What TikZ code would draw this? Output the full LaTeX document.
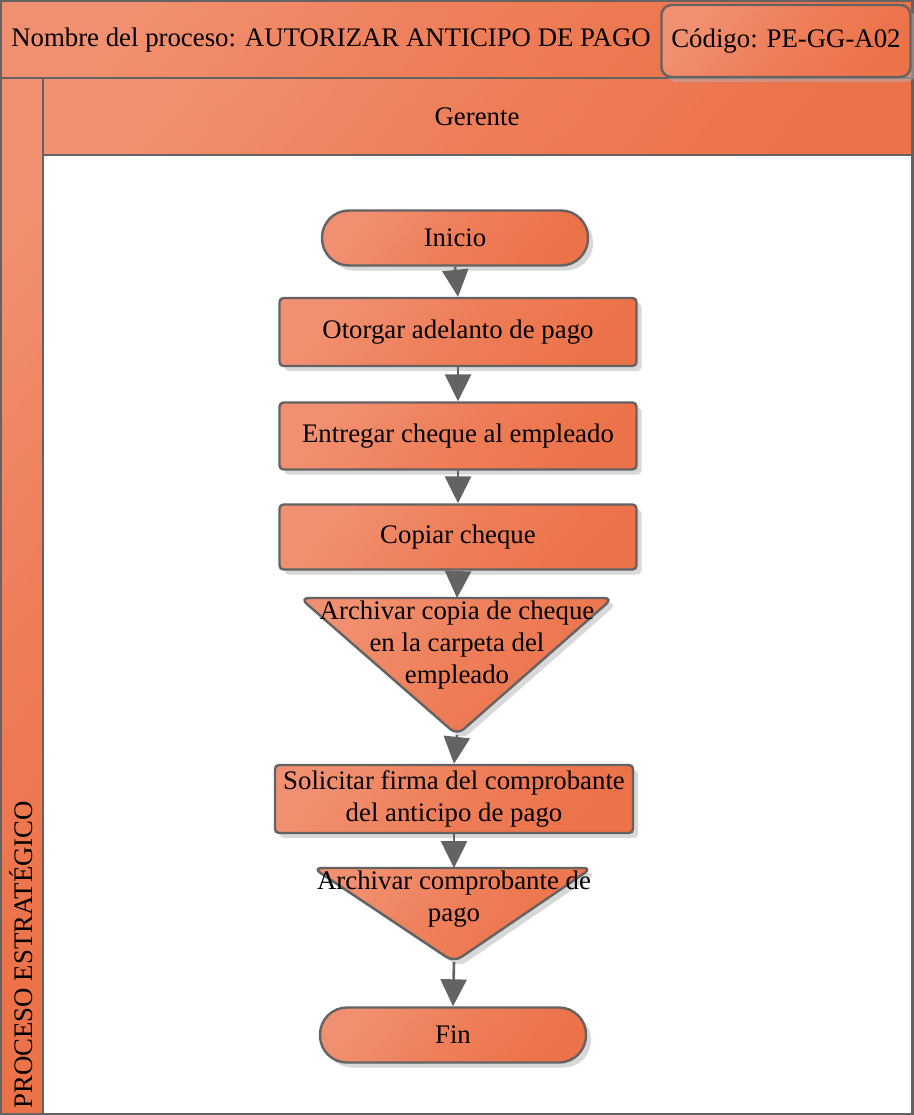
\documentclass[tikz,border=0pt]{standalone}
\usepackage{fontspec}
\setmainfont{Liberation Serif}
\usetikzlibrary{arrows.meta, shadows}
\definecolor{OrangeMain}{HTML}{EC7249}
\definecolor{OrangeLight}{HTML}{F19070}
\definecolor{LineGray}{HTML}{646262}

\tikzset{
  bodyfont/.style={font=\fontsize{26.8}{32}\selectfont},
  orangefill/.style={top color=OrangeLight, bottom color=OrangeMain,
    middle color=OrangeMain!60!OrangeLight, shading angle=50},
  lane/.style={orangefill, draw=LineGray, line width=2.5pt},
  stepbox/.style={rectangle, orangefill, draw=LineGray, line width=2.4pt,
    rounded corners=4pt, minimum width=357pt, minimum height=67pt,
    align=center, bodyfont,
    drop shadow={shadow xshift=5pt, shadow yshift=-5pt, fill=black!30}},
  terminal/.style={stepbox, rounded corners=27pt, minimum width=266pt,
    minimum height=55pt},
  mergeblock/.style={orangefill, draw=LineGray, line width=2.4pt,
    rounded corners=9pt,
    drop shadow={shadow xshift=5pt, shadow yshift=-5pt, fill=black!30}},
  flow/.style={draw=LineGray, line width=2.6pt,
    -{Triangle[length=27pt, width=26pt]}}
}

\begin{document}
\begin{tikzpicture}[x=1pt, y=-1pt]
  \useasboundingbox (0,0) rectangle (913,1115);

  % Header rows and lane
  \path[lane] (0,0) rectangle (913,78);
  \path[lane] (43,78) rectangle (913,155);
  \path[lane] (0,78) rectangle (43,1115);
  \path[draw=LineGray, line width=2.5pt, fill=white] (43,155) rectangle (913,1115);
  \draw[LineGray, line width=3.5pt] (0,0) rectangle (913,1115);

  \node[bodyfont] (title) at (331,40)
    {Nombre del proceso: AUTORIZAR ANTICIPO DE PAGO};
  \node[stepbox, rounded corners=10pt, minimum width=249pt, minimum height=72pt]
    (code) at (786,41) {Código: PE-GG-A02};
  \node[bodyfont] (role) at (477,117) {Gerente};
  \node[bodyfont, rotate=90, anchor=west] (area) at (21,1112)
    {PROCESO ESTRATÉGICO};

  % Flow steps
  \node[terminal] (inicio) at (455,238) {Inicio};
  \node[stepbox, minimum height=68pt] (otorgar) at (458,332)
    {Otorgar adelanto de pago};
  \node[stepbox] (entregar) at (458,436) {Entregar cheque al empleado};
  \node[stepbox, minimum height=65pt] (copiar) at (458,537) {Copiar cheque};

  % Filing triangles
  \coordinate (archcopia-top) at (457,598);
  \coordinate (archcopia-tip) at (457,735);
  \path[mergeblock] (300,598) -- (613,598) -- (archcopia-tip) -- cycle;
  \node[bodyfont, align=center] (archcopia) at (457,645)
    {Archivar copia de cheque\\en la carpeta del\\empleado};

  \node[stepbox, minimum width=358pt, minimum height=68pt] (solicitar) at (454,799)
    {Solicitar firma del comprobante\\del anticipo de pago};

  \coordinate (archcomp-top) at (454,868);
  \coordinate (archcomp-tip) at (454,962);
  \path[mergeblock] (313,868) -- (592,868) -- (archcomp-tip) -- cycle;
  \node[bodyfont, align=center] (archcomp) at (454,899)
    {Archivar comprobante de\\pago};

  \node[terminal] (fin) at (453,1035) {Fin};

  % Arrows
  \draw[flow] (inicio.south) -- (otorgar.north);
  \draw[flow] (otorgar.south) -- (entregar.north);
  \draw[flow] (entregar.south) -- (copiar.north);
  \draw[flow] (copiar.south) -- (archcopia-top);
  \draw[flow] (archcopia-tip) -- (solicitar.north);
  \draw[flow] (solicitar.south) -- (archcomp-top);
  \draw[flow] (archcomp-tip) -- (fin.north);
\end{tikzpicture}
\end{document}
